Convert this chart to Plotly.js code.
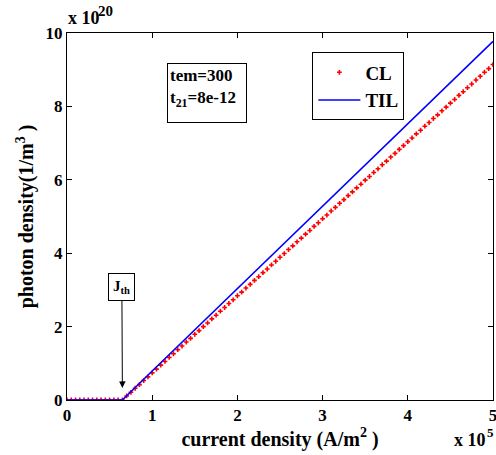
<!DOCTYPE html>
<html>
<head>
<meta charset="utf-8">
<script src="https://cdn.plot.ly/plotly-3.0.1.min.js"></script>
<style>html,body{margin:0;padding:0;background:#fff;}#chart{width:496px;height:455px;}</style>
</head>
<body>
<div id="chart"></div>
<script>
// current density (x 10^5 A/m^2)
const clX = [0,0.05,0.1,0.15,0.2,0.25,0.3,0.35,0.4,0.45,0.5,0.55,0.6,0.65,
  0.7,0.75,0.8,0.85,0.9,0.95,1.0,1.05,1.1,1.15,1.2,1.25,1.3,1.35,1.4,1.45,1.5,1.55,1.6,1.65,1.7,1.75,1.8,1.85,1.9,1.95,
  2.0,2.05,2.1,2.15,2.2,2.25,2.3,2.35,2.4,2.45,2.5,2.55,2.6,2.65,2.7,2.75,2.8,2.85,2.9,2.95,
  3.0,3.05,3.1,3.15,3.2,3.25,3.3,3.35,3.4,3.45,3.5,3.55,3.6,3.65,3.7,3.75,3.8,3.85,3.9,3.95,
  4.0,4.05,4.1,4.15,4.2,4.25,4.3,4.35,4.4,4.45,4.5,4.55,4.6,4.65,4.7,4.75,4.8,4.85,4.9,4.95,5.0];
// photon density (x 10^20 1/m^3), CL model
const clY = [0,0,0,0,0,0,0,0,0,0,0,0,0,0,
  0.11,0.21,0.32,0.42,0.53,0.63,0.74,0.84,0.95,1.05,1.16,1.26,1.37,1.47,1.58,1.68,1.79,1.89,2.00,2.10,2.21,2.31,2.42,2.52,2.63,2.73,
  2.84,2.94,3.05,3.15,3.26,3.36,3.47,3.57,3.68,3.78,3.89,3.99,4.10,4.20,4.31,4.41,4.52,4.62,4.73,4.83,
  4.94,5.04,5.15,5.25,5.36,5.46,5.57,5.67,5.78,5.88,5.99,6.09,6.20,6.30,6.41,6.51,6.62,6.72,6.83,6.93,
  7.04,7.14,7.25,7.35,7.46,7.56,7.67,7.77,7.88,7.98,8.09,8.19,8.30,8.40,8.51,8.61,8.72,8.82,8.93,9.03,9.14];
// TIL model
const tilX = [0,0.65,1.0,1.5,2.0,2.5,3.0,3.5,4.0,4.5,5.0];
const tilY = [0,0,0.79,1.91,3.03,4.16,5.28,6.40,7.52,8.65,9.77];

const xTicks = [0,1,2,3,4,5];
const yTicks = [0,2,4,6,8,10];
const seriesNames = ['CL','TIL'];
const infoText = 'tem=300<br>t<sub>21</sub>=8e-12';
const jthLabel = 'J<sub>th</sub>';
const jthPoint = [0.65, 0.33];

const FONT = 'Liberation Serif, Times New Roman, serif';
const B = {family: FONT, color: '#000', weight: 'bold'};
const f = (s) => Object.assign({}, B, {size: s});

const traces = [
  {x: clX, y: clY, name: seriesNames[0], type: 'scatter', mode: 'markers',
   marker: {symbol: 'cross', size: 4, color: '#ff0000', line: {width: 0}}},
  {x: tilX, y: tilY, name: seriesNames[1], type: 'scatter', mode: 'lines',
   line: {color: '#0000ff', width: 1.6}}
];

const axisCommon = {
  showgrid: false, zeroline: false, showline: true, linecolor: '#000', linewidth: 1,
  mirror: 'ticks', ticks: 'inside', ticklen: 5, tickcolor: '#000',
  ticklabeloverflow: 'allow', tickfont: f(17)
};

const layout = {
  width: 496, height: 455,
  margin: {l: 67, r: 3, t: 33, b: 55},
  paper_bgcolor: '#fff', plot_bgcolor: '#fff',
  font: B,
  xaxis: Object.assign({}, axisCommon, {
    range: [0, 5], tickvals: xTicks, ticktext: xTicks.map(String),
    title: {text: 'current density (A/m<sup>2</sup> )', font: f(20), standoff: 4}
  }),
  yaxis: Object.assign({}, axisCommon, {
    range: [0, 10], tickvals: yTicks, ticktext: yTicks.map(String),
    title: {text: 'photon density(1/m<sup>3</sup> )', font: f(20), standoff: 6}
  }),
  showlegend: true,
  legend: {x: 0.576, y: 0.947, xanchor: 'left', yanchor: 'top',
    bgcolor: '#fff', bordercolor: '#000', borderwidth: 1, itemwidth: 42,
    font: f(19), tracegroupgap: 0},
  annotations: [
    {xref: 'paper', yref: 'paper', x: 0.329, y: 0.837, xanchor: 'center', yanchor: 'middle',
     text: infoText, showarrow: false,
     align: 'left', valign: 'top', width: 74, height: 54, borderpad: 2,
     bordercolor: '#000', borderwidth: 1, bgcolor: '#fff', font: f(17)},
    {xref: 'x', yref: 'y', x: jthPoint[0], y: jthPoint[1], text: jthLabel, showarrow: true,
     ax: -0.5, ay: -101, arrowhead: 2, arrowsize: 1.3, arrowwidth: 1, arrowcolor: '#000',
     bordercolor: '#000', borderwidth: 1, bgcolor: '#fff', borderpad: 4, font: f(15)},
    {xref: 'paper', yref: 'paper', x: -0.003, y: 1, xanchor: 'left', yanchor: 'bottom', yshift: 3,
     text: 'x 10', showarrow: false, font: f(18)},
    {xref: 'paper', yref: 'paper', x: 0.068, y: 1, xanchor: 'left', yanchor: 'bottom', yshift: 12,
     text: '20', showarrow: false, font: f(15)},
    {xref: 'paper', yref: 'paper', x: 0.988, y: 0, xanchor: 'right', yanchor: 'top', yshift: -28,
     text: 'x 10', showarrow: false, font: f(18)},
    {xref: 'paper', yref: 'paper', x: 0.981, y: 0, xanchor: 'left', yanchor: 'top', yshift: -23,
     text: '5', showarrow: false, font: f(13)}
  ]
};

Plotly.newPlot('chart', traces, layout, {displayModeBar: false, staticPlot: true});
</script>
</body>
</html>
